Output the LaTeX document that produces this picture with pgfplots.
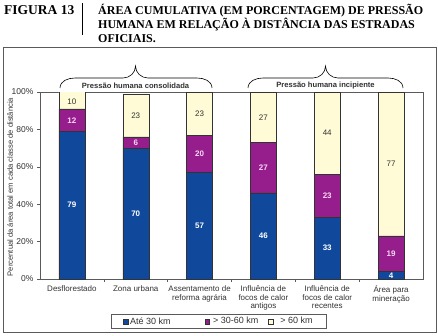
\documentclass[border=0pt]{standalone}
\usepackage{fontspec}
\setmainfont{Liberation Sans}
\newfontfamily\titlefont{Liberation Serif}
\usepackage{pgfplots}
\pgfplotsset{compat=1.18}
\definecolor{cblue}{RGB}{16,72,156}
\definecolor{cpurp}{RGB}{150,30,140}
\definecolor{ccream}{RGB}{255,251,214}
\definecolor{cpink}{RGB}{250,215,245}
\definecolor{cframe}{RGB}{90,90,90}
\definecolor{ctext}{RGB}{50,50,50}
\pgfplotsset{common/.style={
  at={(40pt,56pt)}, anchor=south west,
  scale only axis, width=383pt, height=187pt,
  xmin=-0.5, xmax=5.5, ymin=0, ymax=100}}
\begin{document}
\begin{tikzpicture}[x=1pt,y=1pt]
\path (0,0) rectangle (438,335);
\draw[cframe, line width=0.8pt] (3,3) rectangle (436,288);
\node[anchor=base west, inner sep=0, font=\titlefont\bfseries\fontsize{13.5}{14}\selectfont] at (4,320) {FIGURA 13};
\draw[line width=1pt] (82,300) -- (82,332);
\node[anchor=base west, inner sep=0, font=\titlefont\bfseries\fontsize{12}{14}\selectfont] at (98,320) {ÁREA CUMULATIVA (EM PORCENTAGEM) DE PRESSÃO};
\node[anchor=base west, inner sep=0, font=\titlefont\bfseries\fontsize{12}{14}\selectfont] at (98,306) {HUMANA EM RELAÇÃO À DISTÂNCIA DAS ESTRADAS};
\node[anchor=base west, inner sep=0, font=\titlefont\bfseries\fontsize{12}{14}\selectfont] at (98,292) {OFICIAIS.};
% braces
\draw[line width=0.6pt] (60,247) to[out=90,in=180] (75,257) -- (123,257) to[out=0,in=-90] (135.5,269) to[out=-90,in=180] (148,257) -- (197,257) to[out=0,in=90] (212,247);
\draw[line width=0.6pt] (248,247) to[out=90,in=180] (263,257) -- (313,257) to[out=0,in=-90] (325.5,269) to[out=-90,in=180] (338,257) -- (388,257) to[out=0,in=90] (403,247);
\node[font=\bfseries\fontsize{7.6}{9}\selectfont, text=ctext, fill=white, inner sep=1pt] at (135.5,249) {Pressão humana consolidada};
\node[font=\bfseries\fontsize{7.6}{9}\selectfont, text=ctext, fill=white, inner sep=1pt] at (325.5,249) {Pressão humana incipiente};
\node[rotate=90, font=\fontsize{7.6}{9}\selectfont, text=ctext] at (10,148) {Percentual da área total em cada classe de distância};
\begin{axis}[common,
  ybar stacked, bar width=26pt,
  xtick={0,...,5},
  xticklabels={Desflorestado, Zona urbana, {Assentamento de\\reforma agrária}, {Influência de\\focos de calor\\antigos}, {Influência de\\focos de calor\\recentes}, {Área para\\mineração}},
  xticklabel style={align=center, font=\fontsize{8}{8.8}\selectfont, text=ctext, yshift=0pt},
  major x tick style={draw=none},
  minor xtick={0.5,1.5,2.5,3.5,4.5},
  tick align=outside, tick pos=left,
  major tick length=3pt, minor tick length=3pt,
  ytick={0,20,...,100},
  yticklabel={\pgfmathprintnumber{\tick}\%},
  yticklabel style={font=\fontsize{8.5}{10}\selectfont, text=ctext},
  /pgf/number format/assume math mode=true,
  axis line style={cframe, line width=0.8pt},
  tick style={cframe, line width=0.6pt},
  legend columns=3,
  legend style={at={(0.467,-0.227)}, anchor=center, draw=cframe, line width=0.6pt, font=\fontsize{9}{10}\selectfont, inner ysep=1pt, inner xsep=12pt,
    /tikz/column 2/.style={column sep=32pt},
    /tikz/column 4/.style={column sep=8pt},
    /tikz/every even column/.append style={text=ctext}},
  legend image code/.code={\draw[#1, line width=0.4pt] (0pt,-2.3pt) rectangle (4.6pt,2.3pt);},
]
\addplot[fill=cblue, draw=black!80, line width=0.5pt]
  coordinates {(0,79) (1,70) (2,57) (3,46) (4,33) (5,4)};
\addplot[fill=cpurp, draw=black!80, line width=0.5pt]
  coordinates {(0,12) (1,6) (2,20) (3,27) (4,23) (5,19)};
\addplot[fill=ccream, draw=black!80, line width=0.5pt]
  coordinates {(0,10) (1,23) (2,23) (3,27) (4,44) (5,77)};
\legend{Até 30 km, \hspace{1.5pt}> 30-60 km, \hspace{5pt}> 60 km}
\end{axis}
\begin{axis}[common, hide axis, clip=false,
  nodes near coords, point meta=explicit symbolic,
  every node near coord/.append style={anchor=center}]
\addplot[draw=none, nodes near coords style={text=white, font=\bfseries\fontsize{8}{9}\selectfont}]
  coordinates {(0,39.5) [79] (1,35) [70] (2,28.5) [57] (3,23) [46] (4,16.5) [33] (5,1.8) [4]};
\addplot[draw=none, nodes near coords style={text=cpink, font=\bfseries\fontsize{8}{9}\selectfont}]
  coordinates {(0,84.5) [12] (1,73) [6] (2,67) [20] (3,59.5) [27] (4,44.5) [23] (5,13.5) [19]};
\addplot[draw=none, nodes near coords style={text=ctext, font=\fontsize{8}{9}\selectfont}]
  coordinates {(0,95) [10] (1,87.5) [23] (2,88.5) [23] (3,86.5) [27] (4,78) [44] (5,61.5) [77]};
\end{axis}
\end{tikzpicture}
\end{document}
